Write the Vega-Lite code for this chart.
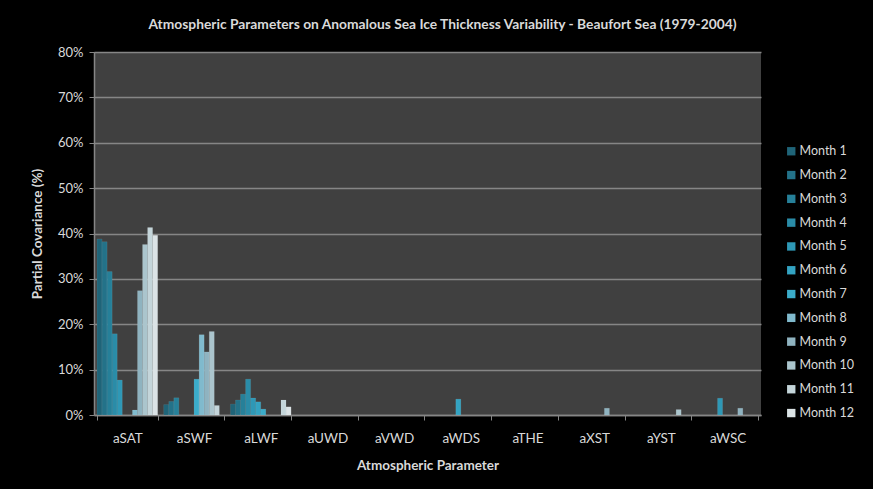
{
  "$schema": "https://vega.github.io/schema/vega-lite/v6.json",
  "width": 667,
  "height": 363,
  "autosize": {"type": "none"},
  "padding": {"left": 94, "top": 52, "right": 112, "bottom": 74},
  "background": "#000000",
  "title": {
    "text": "Atmospheric Parameters on Anomalous Sea Ice Thickness  Variability  - Beaufort Sea (1979-2004)",
    "font": "Lato",
    "fontSize": 13.8,
    "fontWeight": "bold",
    "color": "#d9d9d9",
    "anchor": "middle",
    "dx": 15,
    "offset": 14
  },
  "config": {
    "view": {"fill": "#404040", "stroke": null},
    "font": "Lato"
  },
  "data": {
    "values": [
      {"param": "aSAT", "month": 1, "value": 38.8},
      {"param": "aSAT", "month": 2, "value": 38.2},
      {"param": "aSAT", "month": 3, "value": 31.6},
      {"param": "aSAT", "month": 4, "value": 17.9},
      {"param": "aSAT", "month": 5, "value": 7.7},
      {"param": "aSAT", "month": 8, "value": 1.1},
      {"param": "aSAT", "month": 9, "value": 27.4},
      {"param": "aSAT", "month": 10, "value": 37.6},
      {"param": "aSAT", "month": 11, "value": 41.3},
      {"param": "aSAT", "month": 12, "value": 39.6},
      {"param": "aSWF", "month": 1, "value": 2.3},
      {"param": "aSWF", "month": 2, "value": 3.0},
      {"param": "aSWF", "month": 3, "value": 3.8},
      {"param": "aSWF", "month": 7, "value": 7.9},
      {"param": "aSWF", "month": 8, "value": 17.7},
      {"param": "aSWF", "month": 9, "value": 13.9},
      {"param": "aSWF", "month": 10, "value": 18.4},
      {"param": "aSWF", "month": 11, "value": 2.1},
      {"param": "aLWF", "month": 1, "value": 2.4},
      {"param": "aLWF", "month": 2, "value": 3.3},
      {"param": "aLWF", "month": 3, "value": 4.6},
      {"param": "aLWF", "month": 4, "value": 7.9},
      {"param": "aLWF", "month": 5, "value": 3.75},
      {"param": "aLWF", "month": 6, "value": 2.9},
      {"param": "aLWF", "month": 7, "value": 1.3},
      {"param": "aLWF", "month": 11, "value": 3.3},
      {"param": "aLWF", "month": 12, "value": 1.8},
      {"param": "aWDS", "month": 6, "value": 3.5},
      {"param": "aXST", "month": 9, "value": 1.5},
      {"param": "aYST", "month": 10, "value": 1.2},
      {"param": "aWSC", "month": 5, "value": 3.7},
      {"param": "aWSC", "month": 9, "value": 1.5}
    ]
  },
  "mark": {"type": "bar", "stroke": "#ffffff", "strokeOpacity": 0.15, "strokeWidth": 0.5},
  "encoding": {
    "x": {
      "field": "param",
      "type": "nominal",
      "scale": {
        "domain": ["aSAT", "aSWF", "aLWF", "aUWD", "aVWD", "aWDS", "aTHE", "aXST", "aYST", "aWSC"],
        "paddingInner": 0.09,
        "paddingOuter": 0.045
      },
      "axis": {
        "title": "Atmospheric Parameter",
        "titleColor": "#d9d9d9",
        "titleFont": "Lato",
        "titleFontSize": 13.5,
        "titleFontWeight": "bold",
        "titlePadding": 14,
        "labelAngle": 0,
        "labelColor": "#d9d9d9",
        "labelFontSize": 13.5,
        "labelPadding": 11,
        "tickBand": "extent",
        "tickColor": "#868686",
        "tickSize": 5,
        "domainColor": "#868686",
        "domainWidth": 1.5,
        "grid": false
      }
    },
    "xOffset": {
      "field": "month",
      "type": "ordinal",
      "scale": {"domain": [1, 2, 3, 4, 5, 6, 7, 8, 9, 10, 11, 12], "paddingInner": 0, "paddingOuter": 0}
    },
    "y": {
      "field": "value",
      "type": "quantitative",
      "scale": {"domain": [0, 80], "nice": false},
      "axis": {
        "title": "Partial Covariance (%)",
        "titleColor": "#d9d9d9",
        "titleFontSize": 13.5,
        "titleFontWeight": "bold",
        "titlePadding": 13,
        "values": [0, 10, 20, 30, 40, 50, 60, 70, 80],
        "labelExpr": "datum.value + '%'",
        "labelColor": "#d9d9d9",
        "labelFontSize": 13,
        "labelPadding": 6,
        "tickColor": "#868686",
        "tickSize": 5,
        "domainColor": "#868686",
        "domainWidth": 1.5,
        "gridColor": "#868686",
        "gridWidth": 1.5
      }
    },
    "color": {
      "field": "month",
      "type": "ordinal",
      "scale": {
        "domain": [1, 2, 3, 4, 5, 6, 7, 8, 9, 10, 11, 12],
        "range": ["#1f6478", "#237289", "#268099", "#2a8ca8", "#2e98b6", "#33a3c2", "#3bacca", "#80bacd", "#8fb3c0", "#abc5cd", "#c4d5da", "#dbe3e6"]
      },
      "legend": {
        "title": null,
        "orient": "none",
        "legendX": 691,
        "legendY": 93,
        "symbolType": "square",
        "symbolSize": 70,
        "symbolStrokeWidth": 0,
        "labelExpr": "'Month ' + datum.label",
        "labelColor": "#d9d9d9",
        "labelFontSize": 12.5,
        "labelOffset": 2,
        "rowPadding": 10.8
      }
    }
  }
}
